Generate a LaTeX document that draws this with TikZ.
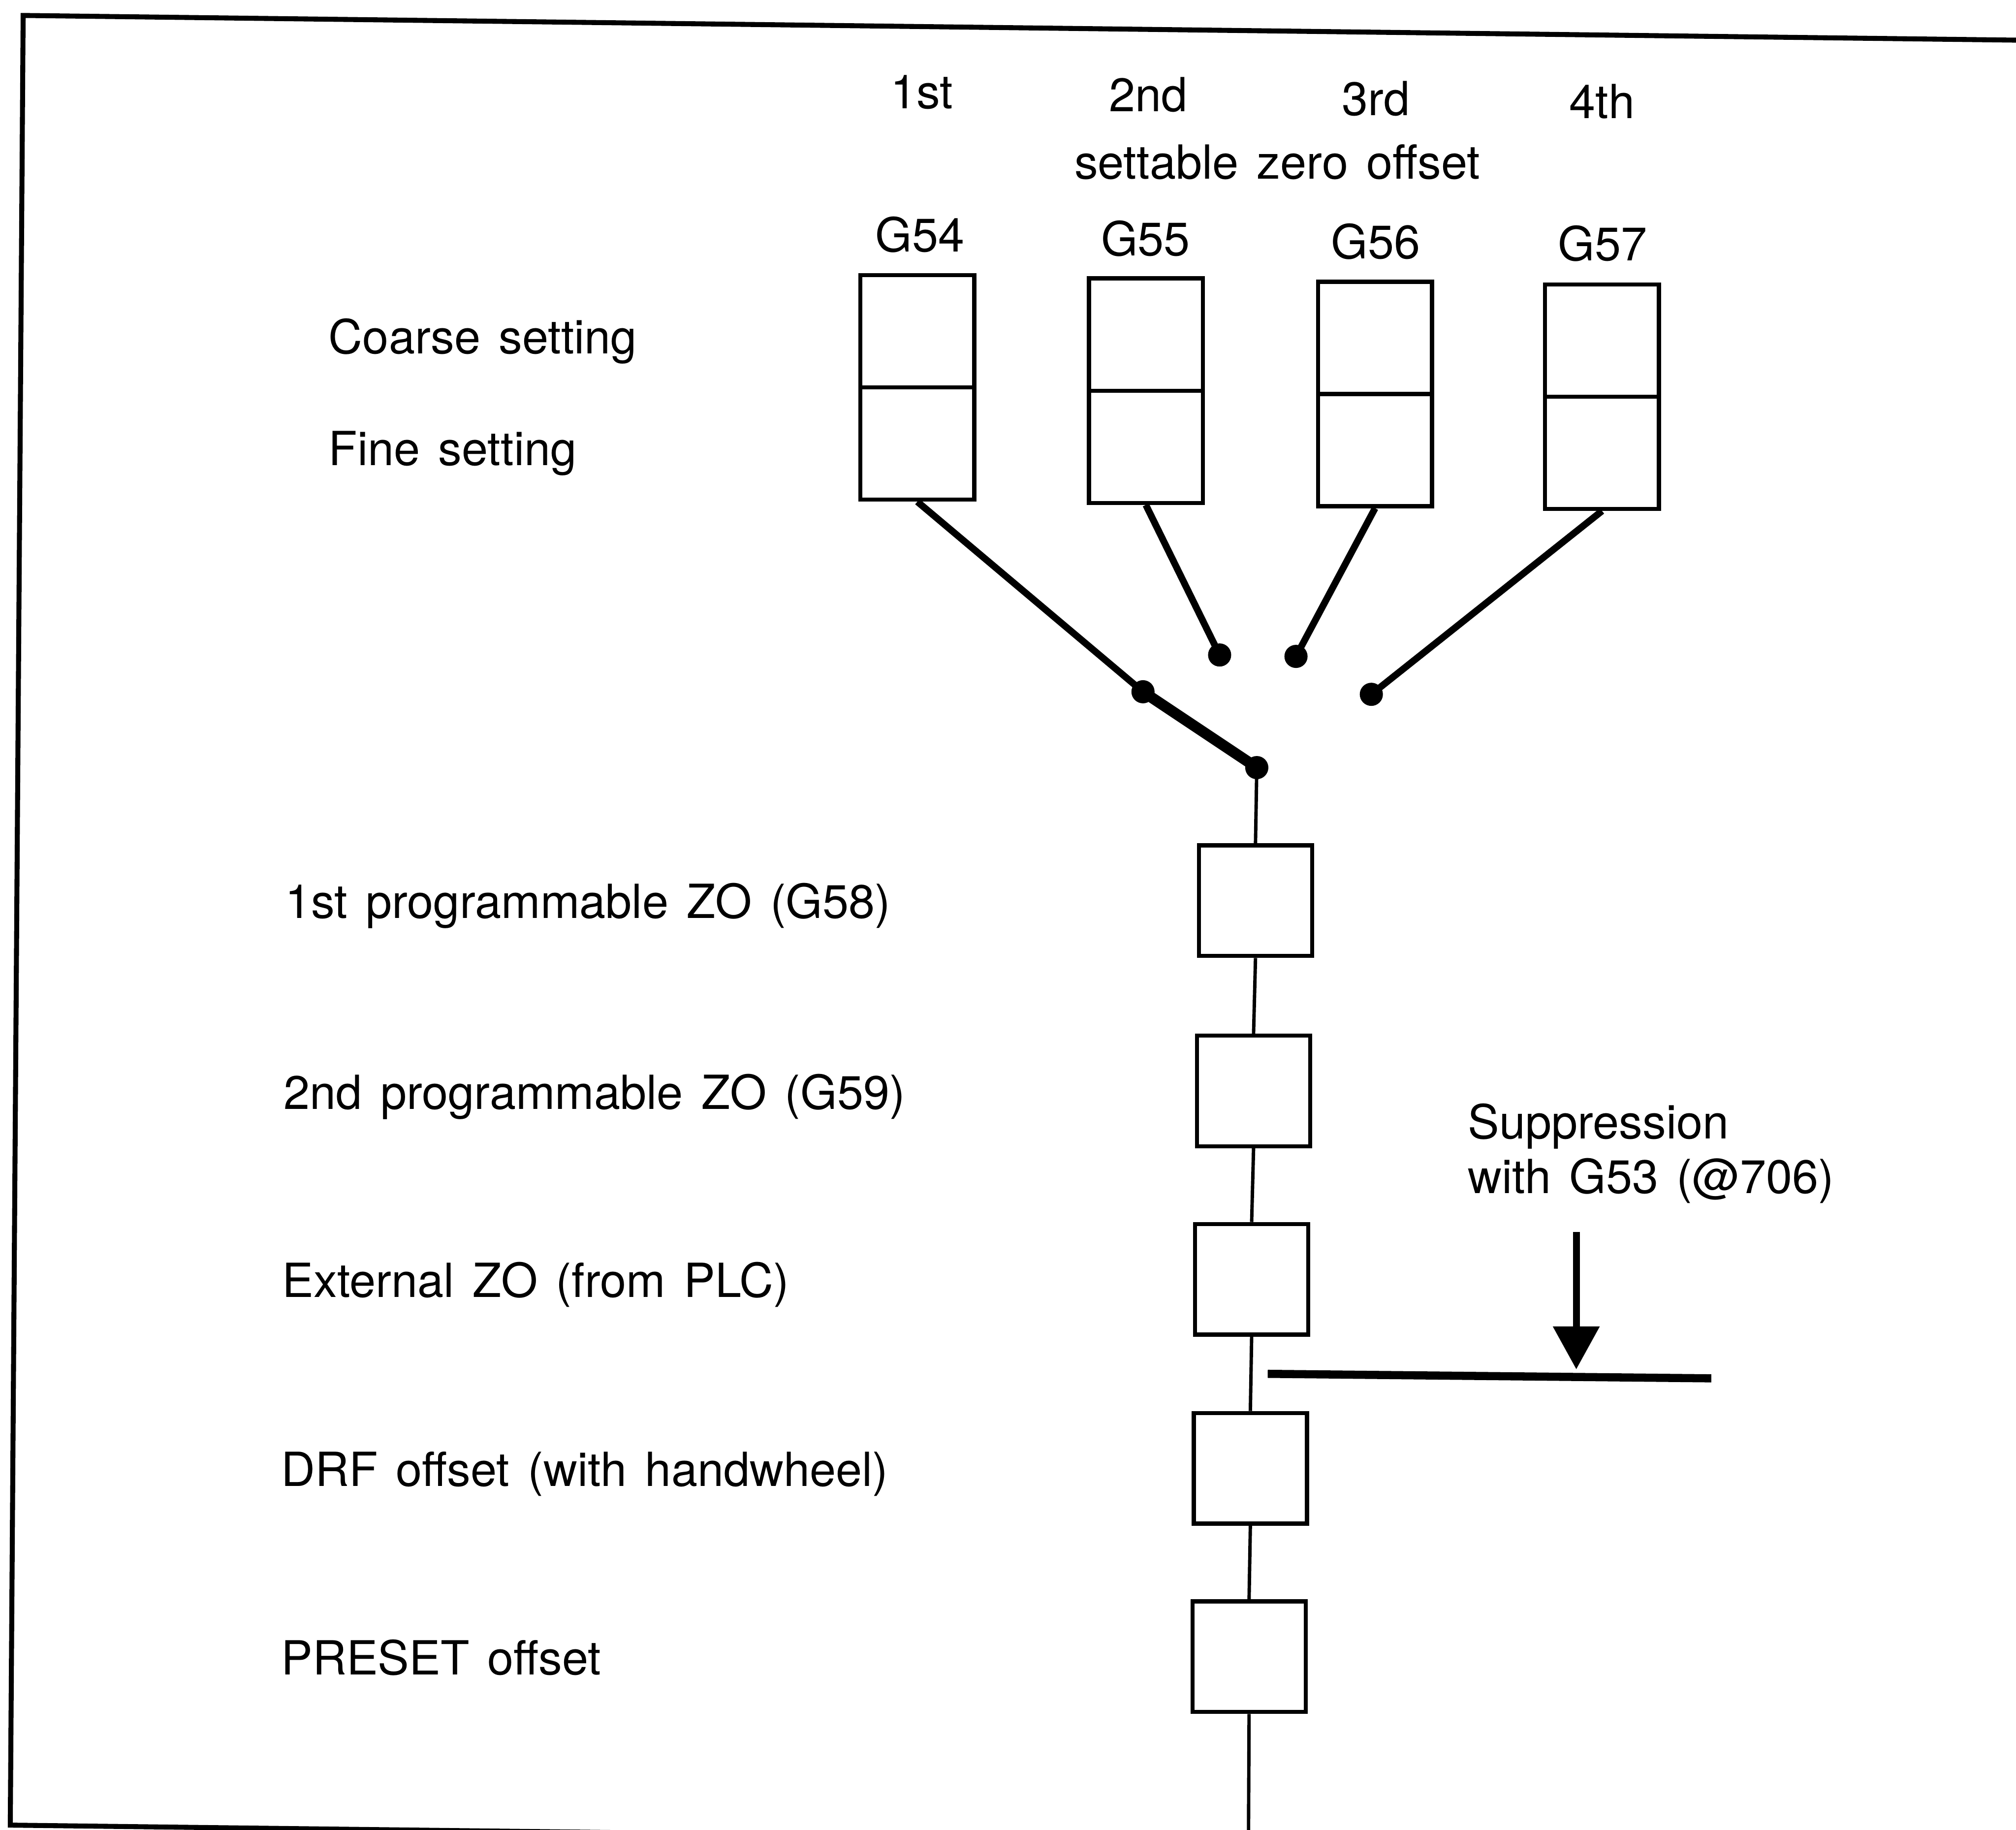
\documentclass[tikz,border=0pt]{standalone}
\usepackage{fontspec}
\setmainfont[WordSpace=1.4]{TeX Gyre Heros}
\usetikzlibrary{arrows.meta}
\begin{document}
\begin{tikzpicture}[x=0.01cm, y=-0.01cm,
  txt/.style={inner sep=0pt, font=\fontsize{10.4}{12.5}\selectfont},
  lbl/.style={txt, anchor=base west},
  hdr/.style={txt, anchor=base},
  zobox/.style={draw, line width=0.9pt, minimum width=0.885cm, minimum height=1.745cm, inner sep=0pt},
  chainbox/.style={draw, line width=0.9pt, minimum width=0.88cm, minimum height=0.86cm, inner sep=0pt},
  feed/.style={line width=1.5pt},
  arm/.style={line width=2.4pt},
  chain/.style={line width=0.75pt},
  contact/.style={circle, fill, inner sep=0pt, minimum size=0.18cm},
  frame/.style={line width=1.1pt, line cap=rect}
]
\clip (0,0) rectangle (1568,1423);

% page frame
\draw[frame] (1600,31.6) -- (18,12) -- (8,1419.5) -- (1600,1439);

% ordinal headings
\node[hdr] (o1) at (717,84.5) {1st};
\node[hdr] (o2) at (893,86.8) {2nd};
\node[hdr] (o3) at (1070,89.6) {3rd};
\node[hdr] (o4) at (1246,91.9) {4th};
\node[hdr] (title) at (993.4,139) {settable zero offset};

% G codes
\node[hdr] (t54) at (715.5,195.8) {G54};
\node[hdr] (t55) at (891,198.7) {G55};
\node[hdr] (t56) at (1070,201) {G56};
\node[hdr] (t57) at (1246.5,202.7) {G57};

% coarse / fine rows
\node[lbl] (coarse) at (255,275) {Coarse setting};
\node[lbl] (fine) at (255,362) {Fine setting};

% settable zero offset boxes (coarse over fine)
\node[zobox] (g54) at (713.5,301.3) {};
\node[zobox] (g55) at (891.2,303.8) {};
\node[zobox] (g56) at (1069.5,306.4) {};
\node[zobox] (g57) at (1246,308.5) {};
\foreach \b in {g54,g55,g56,g57}
  \draw[line width=0.9pt] (\b.west) -- (\b.east);

% selector contacts
\node[contact] (d54) at (889,538) {};
\node[contact] (d55) at (948.6,509.4) {};
\node[contact] (d56) at (1008,510.5) {};
\node[contact] (d57) at (1066.6,540) {};
\node[contact] (pivot) at (977.5,597) {};

\draw[feed] (g54.south) -- (d54.center);
\draw[feed] (g55.south) -- (d55.center);
\draw[feed] (g56.south) -- (d56.center);
\draw[feed] (g57.south) -- (d57.center);
\draw[arm] (d54.center) -- (pivot.center);

% chain of further offsets
\node[chainbox] (c1) at (976.5,700.5) {};
\node[chainbox] (c2) at (975,848.5) {};
\node[chainbox] (c3) at (973.5,995) {};
\node[chainbox] (c4) at (972.5,1142) {};
\node[chainbox] (c5) at (971.5,1288.5) {};
\coordinate (out) at (971,1440);

\draw[chain] (pivot.center) -- (c1.north);
\draw[chain] (c1.south) -- (c2.north);
\draw[chain] (c2.south) -- (c3.north);
\draw[chain] (c3.south) -- (c4.north);
\draw[chain] (c4.south) -- (c5.north);
\draw[chain] (c5.south) -- (out);

\node[lbl] (l1) at (221,714.3) {1st programmable ZO (G58)};
\node[lbl] (l2) at (220,862.5) {2nd programmable ZO (G59)};
\node[lbl] (l3) at (219,1009) {External ZO (from PLC)};
\node[lbl] (l4) at (218,1156) {DRF offset (with handwheel)};
\node[lbl] (l5) at (218,1302.5) {PRESET offset};

% suppression by G53
\node[lbl] (s1) at (1141,885.6) {Suppression};
\node[lbl] (s2) at (1141,928) {with G53 (@706)};
\coordinate (supA) at (986,1068.5);
\coordinate (supB) at (1331,1072);
\coordinate (arrTop) at (1226,958);
\coordinate (arrTip) at (1226,1065);
\draw[line width=1.8pt] (supA) -- (supB);
\draw[line width=1.5pt, -{Triangle[length=9.5pt,width=10pt]}] (arrTop) -- (arrTip);
\end{tikzpicture}
\end{document}
